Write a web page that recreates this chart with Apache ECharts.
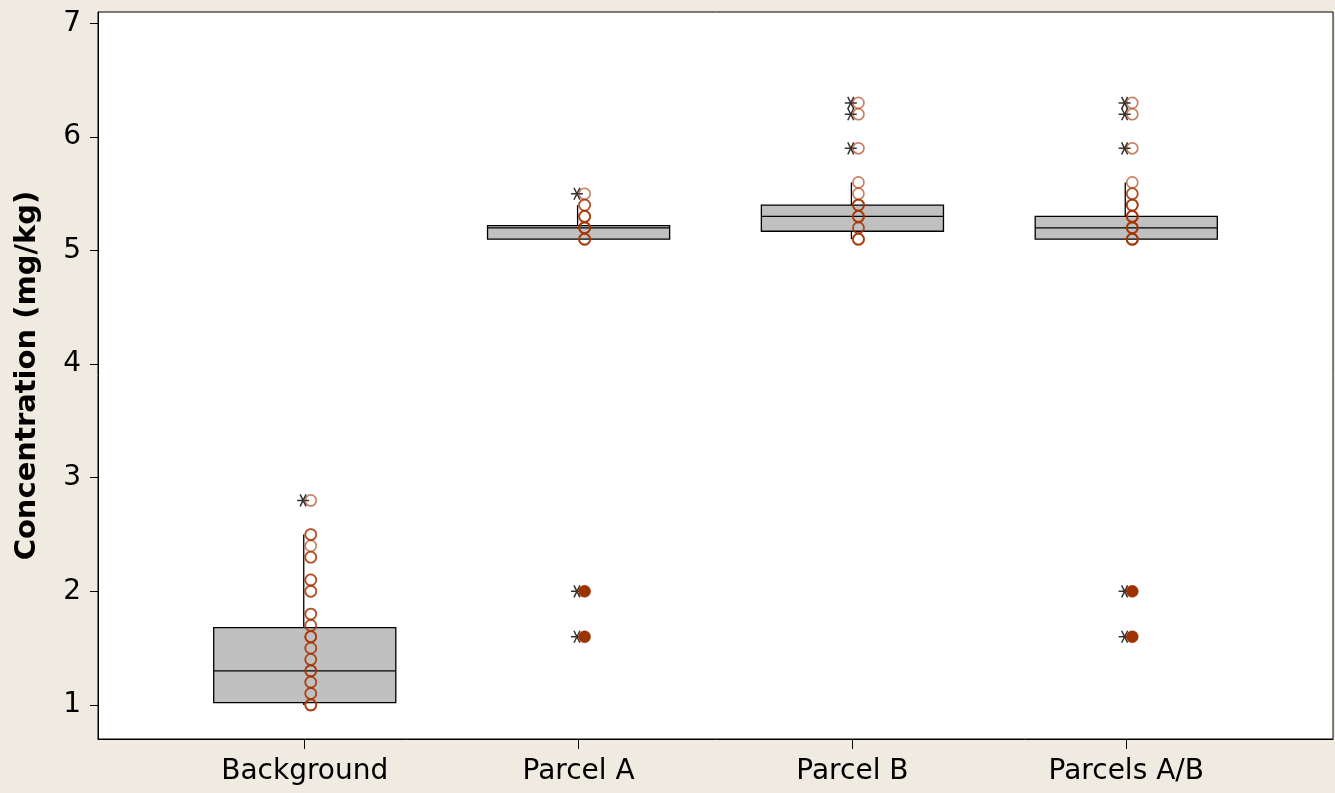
<!DOCTYPE html>
<html>
<head>
<meta charset="utf-8">
<script src="https://cdn.jsdelivr.net/npm/echarts@6/dist/echarts.min.js"></script>
<style>
  html, body { margin: 0; padding: 0; background: #efebe1; }
  #chart { width: 1335px; height: 793px; }
</style>
</head>
<body>
<div id="chart"></div>
<script>
// categories and box stats (whisker low, Q1, median, Q3, whisker high)
var categories = ['Background', 'Parcel A', 'Parcel B', 'Parcels A/B'];
var boxLow  = [1.0, 5.1, 5.1, 5.1];
var boxQ1   = [1.02, 5.1, 5.17, 5.1];
var boxMed  = [1.3, 5.2, 5.3, 5.2];
var boxQ3   = [1.68, 5.22, 5.4, 5.3];
var boxHigh = [2.5, 5.4, 5.6, 5.6];

// outliers (asterisks)
var outliers = [
    [2.8],
    [5.5, 2.0, 1.6],
    [6.3, 6.2, 5.9],
    [6.3, 6.2, 5.9, 2.0, 1.6]
];
// individual observations (open circles, repeats overlap)
var points = [
    [2.8, 2.5, 2.5, 2.4, 2.3, 2.3, 2.1, 2.1, 2.0, 2.0, 1.8, 1.8, 1.7, 1.7, 1.6, 1.6, 1.6,
     1.5, 1.5, 1.4, 1.4, 1.3, 1.3, 1.3, 1.2, 1.2, 1.1, 1.1, 1.0, 1.0, 1.0],
    [5.5, 5.4, 5.4, 5.3, 5.3, 5.3, 5.2, 5.2, 5.2, 5.2, 5.1, 5.1, 5.1],
    [6.3, 6.2, 5.9, 5.6, 5.5, 5.4, 5.4, 5.4, 5.3, 5.3, 5.3, 5.2, 5.2, 5.1, 5.1, 5.1],
    [6.3, 6.2, 5.9, 5.6, 5.5, 5.5, 5.4, 5.4, 5.4, 5.3, 5.3, 5.3, 5.3, 5.2, 5.2, 5.2, 5.2,
     5.1, 5.1, 5.1, 5.1]
];
// flagged observations (filled circles)
var filledPoints = [[], [2.0, 1.6], [], [2.0, 1.6]];

var yTicks = [1, 2, 3, 4, 5, 6, 7];

var font = 'DejaVu Sans';

var boxData = [], starData = [], circleData = [], filledData = [];
for (var i = 0; i < categories.length; i++) {
    var x = i + 1;
    boxData.push([x, boxLow[i], boxQ1[i], boxMed[i], boxQ3[i], boxHigh[i]]);
    outliers[i].forEach(function (v) { starData.push([x - 0.006, v]); });
    points[i].forEach(function (v) { circleData.push([x + 0.022, v]); });
    filledPoints[i].forEach(function (v) { filledData.push([x + 0.022, v]); });
}

var myChart = echarts.init(document.getElementById('chart'));

function renderBox(params, api) {
    var x = api.value(0);
    var pLow = api.coord([x, api.value(1)]);
    var pQ1 = api.coord([x, api.value(2)]);
    var pMed = api.coord([x, api.value(3)]);
    var pQ3 = api.coord([x, api.value(4)]);
    var pHigh = api.coord([x, api.value(5)]);
    var w = api.size([0.665, 0])[0];
    var cx = pQ1[0] - 1;
    var left = pQ1[0] - w / 2;
    var lineStyle = { stroke: '#000', lineWidth: 1.3 };
    return {
        type: 'group',
        children: [
            { type: 'line', shape: { x1: cx, y1: pQ3[1], x2: cx, y2: pHigh[1] }, style: lineStyle },
            { type: 'line', shape: { x1: cx, y1: pQ1[1], x2: cx, y2: pLow[1] }, style: lineStyle },
            { type: 'rect', shape: { x: left, y: pQ3[1], width: w, height: pQ1[1] - pQ3[1] },
              style: { fill: '#c0c0c0', stroke: '#000', lineWidth: 1.3 } },
            { type: 'line', shape: { x1: left, y1: pMed[1], x2: left + w, y2: pMed[1] }, style: lineStyle }
        ]
    };
}

var option = {
    backgroundColor: '#efebe1',
    animation: false,
    grid: {
        left: 98,
        top: 12,
        right: 2,
        bottom: 54,
        show: true,
        backgroundColor: '#fff',
        borderColor: '#000',
        borderWidth: 1
    },
    xAxis: {
        type: 'value',
        min: 0.245,
        max: 4.755,
        axisLine: { show: true, lineStyle: { color: '#000', width: 1 } },
        axisTick: { show: true, length: 10, customValues: [1, 2, 3, 4], lineStyle: { color: '#000' } },
        axisLabel: {
            customValues: [1, 2, 3, 4],
            formatter: function (v) { return categories[Math.round(v) - 1]; },
            color: '#000',
            fontFamily: font,
            fontSize: 28,
            margin: 19
        },
        splitLine: { show: false }
    },
    yAxis: {
        type: 'value',
        min: 0.7,
        max: 7.1,
        name: 'Concentration (mg/kg)',
        nameLocation: 'middle',
        nameGap: 56,
        nameTextStyle: { color: '#000', fontFamily: font, fontSize: 29, fontWeight: 'bold' },
        axisLine: { show: true, lineStyle: { color: '#000', width: 1 } },
        axisTick: { show: true, length: 8, customValues: yTicks, lineStyle: { color: '#000' } },
        axisLabel: {
            customValues: yTicks,
            color: '#000',
            fontFamily: font,
            fontSize: 28,
            margin: 17
        },
        splitLine: { show: false }
    },
    series: [{
        type: 'custom',
        renderItem: renderBox,
        data: boxData,
        z: 1
    }, {
        type: 'scatter',
        symbol: 'circle',
        symbolSize: 11,
        data: circleData,
        itemStyle: { color: 'transparent', borderColor: 'rgba(166,52,4,0.78)', borderWidth: 1.7 },
        z: 3
    }, {
        type: 'scatter',
        symbol: 'circle',
        symbolSize: 12,
        data: filledData,
        itemStyle: { color: '#9e3300', borderColor: '#9e3300', borderWidth: 0.5, opacity: 1 },
        z: 3
    }, {
        type: 'scatter',
        symbol: 'path://M-1,0L1,0M-0.5,-0.87L0.5,0.87M-0.5,0.87L0.5,-0.87',
        symbolSize: 12,
        data: starData,
        itemStyle: { color: 'transparent', borderColor: '#000', borderWidth: 1.5 },
        z: 2
    }]
};

myChart.setOption(option, true);
</script>
</body>
</html>
